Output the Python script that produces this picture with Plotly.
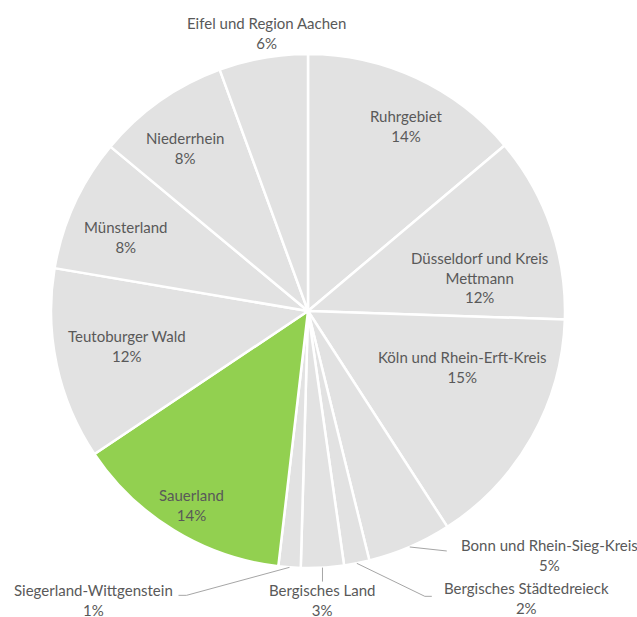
import math
import plotly.graph_objects as go

# ---------------- data ----------------
regions = [
    "Ruhrgebiet", "Düsseldorf und Kreis Mettmann", "Köln und Rhein-Erft-Kreis",
    "Bonn und Rhein-Sieg-Kreis", "Bergisches Städtedreieck", "Bergisches Land",
    "Siegerland-Wittgenstein", "Sauerland", "Teutoburger Wald", "Münsterland",
    "Niederrhein", "Eifel und Region Aachen",
]
label_texts = [
    "Ruhrgebiet", "Düsseldorf und Kreis<br>Mettmann", "Köln und Rhein-Erft-Kreis",
    "Bonn und Rhein-Sieg-Kreis", "Bergisches Städtedreieck", "Bergisches Land",
    "Siegerland-Wittgenstein", "Sauerland", "Teutoburger Wald", "Münsterland",
    "Niederrhein", "Eifel und Region Aachen",
]
shares = [13.9, 11.7, 15.4, 5.3, 1.6, 2.7, 1.4, 13.8, 12.1, 8.4, 8.4, 5.6]
highlight = "Sauerland"

# ---------------- style / layout ----------------
W, H = 637, 617
L, T, S = 51, 54, 514          # plot area (square) in px
CX, CY, R = L + S / 2, T + S / 2, S / 2
GREY, GREEN = "#E2E2E2", "#92D050"
TEXT = "#595959"
LEADER = "#A6A6A6"
FONT = "Lato"
FS = 15

# inside labels: (angle offset in degrees, radius fraction)
inside = {
    "Ruhrgebiet": (3.2, 0.816),
    "Düsseldorf und Kreis Mettmann": (8.1, 0.681),
    "Köln und Rhein-Erft-Kreis": (-9.5, 0.638),
    "Sauerland": (-0.4, 0.88),
    "Teutoburger Wald": (1.3, 0.717),
    "Münsterland": (-2.5, 0.765),
    "Niederrhein": (-1.8, 0.796),
    "Eifel und Region Aachen": (1.5, 1.094),
}
# outside labels with leader lines: offsets (px) relative to the arc point
outside = {
    "Bonn und Rhein-Sieg-Kreis": dict(elbow=(37, 4), tail=0, gap=12, xanchor="left", yanchor="middle", dy=4),
    "Bergisches Städtedreieck": dict(elbow=(68, 33), tail=7, gap=10, xanchor="left", yanchor="middle", dy=1.5),
    "Bergisches Land": dict(elbow=(0, 14), tail=0, gap=-3, xanchor="center", yanchor="top", dy=0),
    "Siegerland-Wittgenstein": dict(elbow=(-103, 28), tail=-8, gap=-4, xanchor="right", yanchor="middle", dy=4.5),
}


def to_paper(px, py):
    return (px - L) / S, (T + S - py) / S


def polar(angle_deg, rf):
    a = math.radians(angle_deg)
    return CX + rf * R * math.sin(a), CY - rf * R * math.cos(a)


total = sum(shares)
mids, cum = [], 0.0
for v in shares:
    mids.append((cum + v / 2) / total * 360)
    cum += v

fig = go.Figure(go.Pie(
    labels=regions,
    values=shares,
    sort=False,
    direction="clockwise",
    rotation=0,
    textinfo="none",
    hoverinfo="label+percent",
    marker=dict(colors=[GREEN if r == highlight else GREY for r in regions],
                line=dict(color="white", width=2.5)),
    showlegend=False,
    domain=dict(x=[0, 1], y=[0, 1]),
))

annotations, shapes = [], []
for name, txt, v, mid in zip(regions, label_texts, shares, mids):
    pct = int(v / total * 100 + 0.5)
    text = f"{txt}<br>{pct}%"
    if name in inside:
        off, rf = inside[name]
        px, py = polar(mid + off, rf)
        x, y = to_paper(px, py)
        annotations.append(dict(x=x, y=y, xref="paper", yref="paper", text=text,
                                showarrow=False, xanchor="center", yanchor="middle",
                                font=dict(family=FONT, size=FS, color=TEXT)))
    else:
        o = outside[name]
        sx, sy = polar(mid, 1.0)
        ex, ey = sx + o["elbow"][0], sy + o["elbow"][1]
        tx = ex + o["tail"]
        pts = [(sx, sy), (ex, ey), (tx, ey)]
        path = "M " + " L ".join(f"{to_paper(a, b)[0]:.5f},{to_paper(a, b)[1]:.5f}" for a, b in pts)
        shapes.append(dict(type="path", path=path, xref="paper", yref="paper",
                           line=dict(color=LEADER, width=1)))
        lx = tx + o["gap"] if o["xanchor"] != "center" else tx
        ly = ey + o["dy"] if o["yanchor"] == "middle" else ey + o["gap"]
        x, y = to_paper(lx, ly)
        annotations.append(dict(x=x, y=y, xref="paper", yref="paper", text=text,
                                showarrow=False, xanchor=o["xanchor"], yanchor=o["yanchor"],
                                font=dict(family=FONT, size=FS, color=TEXT)))

fig.update_layout(
    width=W, height=H,
    margin=dict(l=L, r=W - L - S, t=T, b=H - T - S, pad=0),
    paper_bgcolor="white", plot_bgcolor="white",
    annotations=annotations, shapes=shapes,
    font=dict(family=FONT, size=FS, color=TEXT),
)

fig.write_html(
    "out.html",
    config={"displayModeBar": False},
    post_script="document.body.style.margin='0';document.body.style.overflow='hidden';",
)
